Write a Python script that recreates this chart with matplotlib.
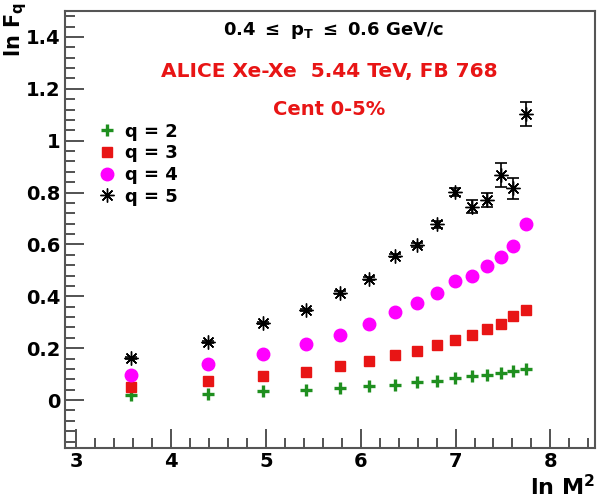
import numpy as np
import matplotlib.pyplot as plt
from matplotlib.ticker import MultipleLocator

plt.rcParams['font.family'] = 'DejaVu Sans'
plt.rcParams['font.weight'] = 'bold'
plt.rcParams['mathtext.fontset'] = 'custom'
plt.rcParams['mathtext.rm'] = 'DejaVu Sans:bold'
plt.rcParams['mathtext.it'] = 'DejaVu Sans:bold'
plt.rcParams['mathtext.bf'] = 'DejaVu Sans:bold'

# ln M^2 bins
lnM2 = [3.58, 4.39, 4.97, 5.42, 5.78, 6.09, 6.36, 6.59, 6.80, 6.99, 7.17, 7.33, 7.48, 7.61, 7.74]

# ln F_q for q = 2..5
lnF2 = [0.018, 0.023, 0.034, 0.039, 0.048, 0.053, 0.059, 0.068, 0.073, 0.084, 0.091, 0.095, 0.103, 0.112, 0.121]
lnF3 = [0.051, 0.073, 0.091, 0.108, 0.133, 0.151, 0.172, 0.190, 0.212, 0.232, 0.252, 0.275, 0.295, 0.324, 0.347]
lnF4 = [0.098, 0.139, 0.179, 0.215, 0.251, 0.292, 0.339, 0.373, 0.414, 0.458, 0.480, 0.517, 0.551, 0.592, 0.677]
lnF5 = [0.161, 0.223, 0.296, 0.347, 0.414, 0.468, 0.556, 0.597, 0.677, 0.802, 0.746, 0.772, 0.866, 0.816, 1.104]
err5 = [0.003, 0.004, 0.004, 0.005, 0.005, 0.006, 0.006, 0.008, 0.012, 0.015, 0.026, 0.026, 0.046, 0.040, 0.046]

fig = plt.figure(figsize=(5.97, 4.99), dpi=100)
ax = fig.add_axes([65/597, 51/499, 530/597, 437/499])

ax.plot(lnM2, lnF2, ls='none', marker='+', ms=9, mew=2.4, color='#1f8f1f', label='q = 2')
ax.plot(lnM2, lnF3, ls='none', marker='s', ms=7, color='#e81515', label='q = 3')
ax.plot(lnM2, lnF4, ls='none', marker='o', ms=9, color='#ff00ff', label='q = 4')
ax.errorbar(lnM2, lnF5, yerr=err5, ls='none', color='black', elinewidth=1.2, capsize=4, capthick=1.2)
ax.plot(lnM2, lnF5, ls='none', marker=(8, 2, 0), ms=10, mew=1.0, color='black', label='q = 5')
ax.plot(lnM2, lnF5, ls='none', marker='o', ms=3, color='black')

ax.set_xlim(2.884, 8.47)
ax.set_ylim(-0.185, 1.5)

ax.xaxis.set_major_locator(MultipleLocator(1))
ax.xaxis.set_minor_locator(MultipleLocator(0.2))
ax.yaxis.set_minor_locator(MultipleLocator(0.04))
ax.set_yticks([0, 0.2, 0.4, 0.6, 0.8, 1.0, 1.2, 1.4])
ax.set_yticklabels(['0', '0.2', '0.4', '0.6', '0.8', '1', '1.2', '1.4'])

ax.tick_params(which='both', direction='in', top=False, right=False, color='#444444', width=1.3)
ax.tick_params(which='major', length=14, labelsize=14, pad=3)
ax.tick_params(which='minor', length=7)
for s in ax.spines.values():
    s.set_color('#555555')
    s.set_linewidth(1.5)

fig.text(0.997, 0.0, r'ln M$^{2}$', ha='right', va='bottom', fontsize=16, fontweight='bold')
fig.text(0.003, 0.995, r'ln F$_{q}$', ha='left', va='top', rotation=90, fontsize=15, fontweight='bold')

ax.text(0.506, 0.955, r'0.4 $\leq$ p$_{T}$ $\leq$ 0.6 GeV/c', transform=ax.transAxes,
        ha='center', va='center', fontsize=13, color='black')
ax.text(0.498, 0.862, 'ALICE Xe-Xe  5.44 TeV, FB 768', transform=ax.transAxes,
        ha='center', va='center', fontsize=14.5, color='#e81515')
ax.text(0.498, 0.775, 'Cent 0-5%', transform=ax.transAxes,
        ha='center', va='center', fontsize=14, color='#e81515')

ax.legend(loc='upper left', bbox_to_anchor=(0.045, 0.765), frameon=False, fontsize=13,
          handlelength=1.0, handletextpad=0.5, labelspacing=0.2, borderpad=0)

fig.savefig('out.png', dpi=100)
